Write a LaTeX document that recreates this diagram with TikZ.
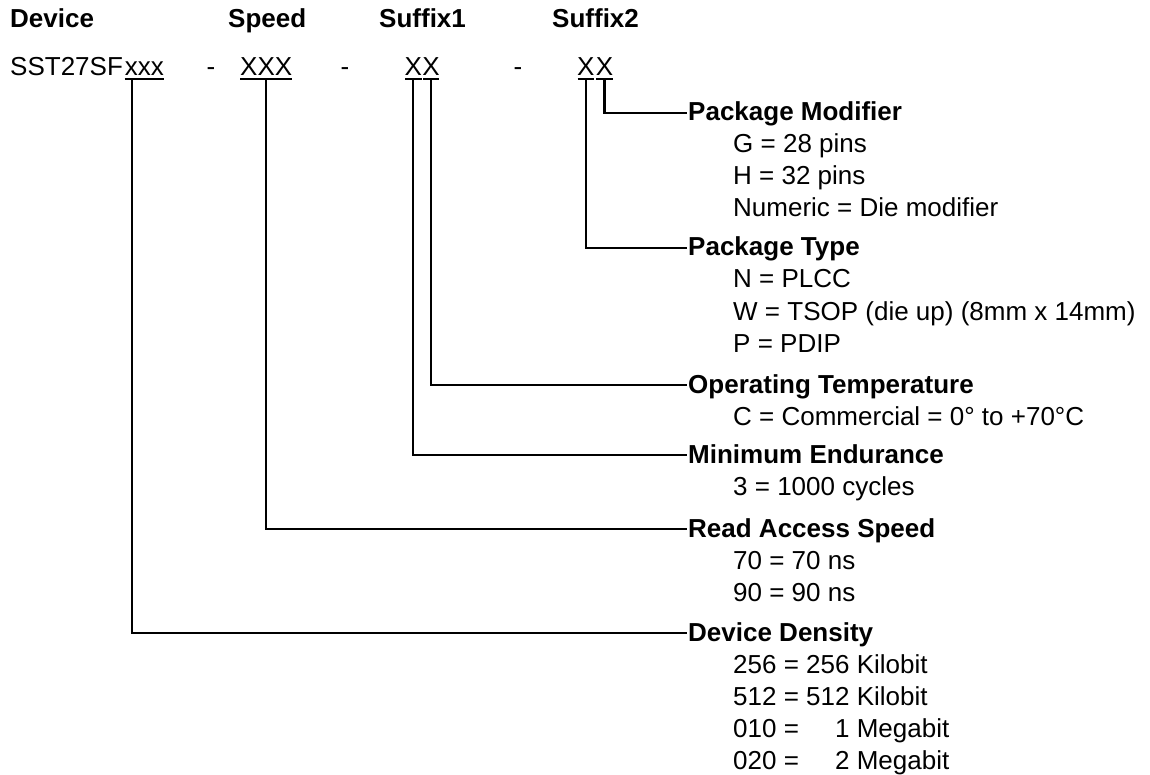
\documentclass[tikz,border=0pt]{standalone}
\usepackage{fontspec}
\setmainfont{Liberation Sans}
\begin{document}
\begin{tikzpicture}[x=1pt,y=-1pt,
  txt/.style={inner sep=0pt, anchor=base west, font=\fontsize{26}{32}\selectfont},
  hdr/.style={txt, font=\fontsize{26}{32}\selectfont\bfseries},
  lab/.style={hdr, text height=19pt, text depth=3pt, inner xsep=1pt},
  item/.style={txt},
  conn/.style={line width=2.2pt},
  uline/.style={line width=2pt}]
\useasboundingbox[fill=white] (0,0) rectangle (1150,775);

% headers
\node[hdr] (hdev) at (10,28) {Device};
\node[hdr] (hspd) at (228,28) {Speed};
\node[hdr] (hs1) at (379,28) {Suffix1};
\node[hdr] (hs2) at (552,28) {Suffix2};

% part number row
\node[txt] (pn) at (10,76) {SST27SF};
\node[txt] (px) at ([xshift=1.5pt]pn.base east) {xxx};
\node[txt,anchor=base] (d1) at (211,76) {-};
\node[txt] (spd) at (240,76) {XXX};
\node[txt,anchor=base] (d2) at (345,76) {-};
\node[txt] (s1a) at (404.5,76) {X};
\node[txt] (s1b) at (s1a.base east) {X};
\node[txt,anchor=base] (d3) at (518,76) {-};
\node[txt] (s2a) at (577,76) {X};
\node[txt] (s2b) at ([xshift=0.8pt]s2a.base east) {X};

% underlines
\draw[uline] ([yshift=-3.5pt]px.base west) -- ([yshift=-3.5pt]px.base east);
\draw[uline] ([yshift=-3.5pt]spd.base west) -- ([yshift=-3.5pt]spd.base east);
\foreach \n in {s1a,s1b,s2a,s2b}
  \draw[uline] ([xshift=0.6pt,yshift=-3.5pt]\n.base west) -- ([xshift=-0.6pt,yshift=-3.5pt]\n.base east);

% connector start points
\coordinate (cdev) at ([xshift=7pt,yshift=-3.5pt]px.base west);
\coordinate (cspd) at ([yshift=-3.5pt]spd.base);
\coordinate (cs1a) at ([yshift=-3.5pt]s1a.base);
\coordinate (cs1b) at ([yshift=-3.5pt]s1b.base);
\coordinate (cs2a) at ([yshift=-3.5pt]s2a.base);
\coordinate (cs2b) at ([yshift=-3.5pt]s2b.base);

% labels
\node[lab] (lpm) at (687,121) {Package Modifier};
\node[item] at (733,153) {G = 28 pins};
\node[item] at (733,185) {H = 32 pins};
\node[item] at (733,217) {Numeric = Die modifier};

\node[lab] (lpt) at (687,256) {Package Type};
\node[item] at (733,288) {N = PLCC};
\node[item] at (733,320) {W = TSOP (die up) (8mm x 14mm)};
\node[item] at (733,352) {P = PDIP};

\node[lab] (lot) at (687,393) {Operating Temperature};
\node[item] at (733,425) {C = Commercial = 0° to +70°C};

\node[lab] (lme) at (687,463) {Minimum Endurance};
\node[item] at (733,495) {3 = 1000 cycles};

\node[lab] (lra) at (687,537) {Read Access Speed};
\node[item] at (733,569) {70 = 70 ns};
\node[item] at (733,601) {90 = 90 ns};

\node[lab] (ldd) at (687,641) {Device Density};
\node[item] at (733,673) {256 = 256 Kilobit};
\node[item] at (733,705) {512 = 512 Kilobit};
\node[item] at (733,737) {010 = \phantom{25}1 Megabit};
\node[item] at (733,769) {020 = \phantom{25}2 Megabit};

% connectors
\draw[conn] (cs2b) |- (lpm.west);
\draw[conn] (cs2a) |- (lpt.west);
\draw[conn] (cs1b) |- (lot.west);
\draw[conn] (cs1a) |- (lme.west);
\draw[conn] (cspd) |- (lra.west);
\draw[conn] (cdev) |- (ldd.west);
\end{tikzpicture}
\end{document}
